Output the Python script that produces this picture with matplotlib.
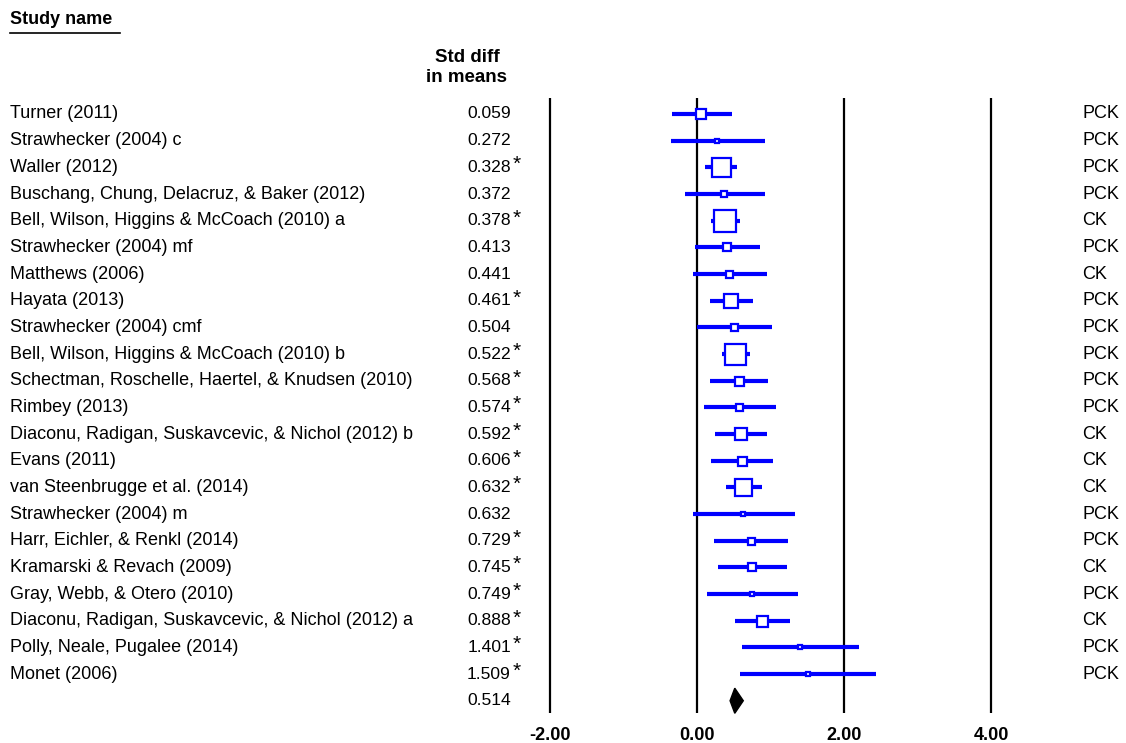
import matplotlib
matplotlib.use("Agg")
import matplotlib.pyplot as plt
from matplotlib.transforms import blended_transform_factory

plt.rcParams['font.family'] = ['Liberation Sans', 'DejaVu Sans']

# Studies, top to bottom
studies = [
    "Turner (2011)",
    "Strawhecker (2004) c",
    "Waller (2012)",
    "Buschang, Chung, Delacruz, & Baker (2012)",
    "Bell, Wilson, Higgins & McCoach (2010) a",
    "Strawhecker (2004) mf",
    "Matthews (2006)",
    "Hayata (2013)",
    "Strawhecker (2004) cmf",
    "Bell, Wilson, Higgins & McCoach (2010) b",
    "Schectman, Roschelle, Haertel, & Knudsen (2010)",
    "Rimbey (2013)",
    "Diaconu, Radigan, Suskavcevic, & Nichol (2012) b",
    "Evans (2011)",
    "van Steenbrugge et al. (2014)",
    "Strawhecker (2004) m",
    "Harr, Eichler, & Renkl (2014)",
    "Kramarski & Revach (2009)",
    "Gray, Webb, & Otero (2010)",
    "Diaconu, Radigan, Suskavcevic, & Nichol (2012) a",
    "Polly, Neale, Pugalee (2014)",
    "Monet (2006)",
]
smd = [0.059, 0.272, 0.328, 0.372, 0.378, 0.413, 0.441, 0.461, 0.504, 0.522,
       0.568, 0.574, 0.592, 0.606, 0.632, 0.632, 0.729, 0.745, 0.749, 0.888,
       1.401, 1.509]
lower = [-0.34, -0.36, 0.11, -0.16, 0.19, -0.03, -0.05, 0.18, 0.00, 0.34,
         0.18, 0.09, 0.25, 0.19, 0.40, -0.05, 0.23, 0.28, 0.14, 0.52,
         0.61, 0.59]
upper = [0.47, 0.92, 0.55, 0.92, 0.59, 0.86, 0.95, 0.76, 1.02, 0.72,
         0.97, 1.07, 0.95, 1.04, 0.88, 1.33, 1.24, 1.22, 1.38, 1.26,
         2.21, 2.44]
signif = [False, False, True, False, True, False, False, True, False, True,
          True, True, True, True, True, False, True, True, True, True,
          True, True]
knowledge = ["PCK", "PCK", "PCK", "PCK", "CK", "PCK", "CK", "PCK", "PCK", "PCK",
             "PCK", "PCK", "CK", "CK", "CK", "PCK", "PCK", "CK", "PCK", "CK",
             "PCK", "PCK"]
# relative weight (box size)
weight = [10, 4, 19, 6, 22, 8, 7, 14, 7, 21,
          9, 7, 12, 9, 17, 5, 7, 8, 5, 11,
          5, 4]

summary_est = 0.514
summary_lo = 0.45
summary_hi = 0.63

ticks = [-2, 0, 2, 4]
tick_labels = ["-2.00", "0.00", "2.00", "4.00"]

W, H = 1126, 743
fig = plt.figure(figsize=(W / 100, H / 100), dpi=100)
ax = fig.add_axes([0, 0, 1, 1])
ax.axis("off")

# scale: x=-2 at 550px, x=0 at 697px ; row 0 at 114px, 26.67px per row
px_unit = 73.5
x0 = -2 - 550 / px_unit
ax.set_xlim(x0, x0 + W / px_unit)
row_h = 26.67
r0 = -114 / row_h
ax.set_ylim(r0 + H / row_h, r0)

n = len(studies)
rows = list(range(n))
sum_row = n

# vertical reference lines
ax.vlines(ticks, -0.6, sum_row + 0.45, colors="black", lw=1.6, zorder=1)

# confidence intervals and boxes
blue = "#0000ff"
ax.hlines(rows, lower, upper, colors=blue, lw=3.0, zorder=2)
for r, m, w in zip(rows, smd, weight):
    ax.plot(m, r, marker="s", ms=w * 0.72, mfc="white", mec=blue, mew=1.6,
            zorder=3, linestyle="none")

# summary diamond
dh = 0.47
ax.fill([summary_lo, summary_est, summary_hi, summary_est],
        [sum_row, sum_row - dh, sum_row, sum_row + dh],
        color="black", zorder=3)

# tick labels
for t, lab in zip(ticks, tick_labels):
    ax.text(t, sum_row + 1.3, lab, ha="center", va="center", fontsize=13,
            fontweight="bold")

tr = blended_transform_factory(ax.transAxes, ax.transData)
fs = 13
for r, name, m, s, k in zip(rows, studies, smd, signif, knowledge):
    ax.text(10 / W, r, name, transform=tr, ha="left", va="center", fontsize=fs)
    ax.text(511 / W, r, f"{m:.3f}", transform=tr, ha="right", va="center",
            fontsize=12.6)
    if s:
        ax.text(513 / W, r - 0.1, "*", transform=tr, ha="left", va="center",
                fontsize=15)
    ax.text(1082 / W, r, k, transform=tr, ha="left", va="center", fontsize=fs)
ax.text(511 / W, sum_row, f"{summary_est:.3f}", transform=tr, ha="right",
        va="center", fontsize=12.6)

# headers
ft = fig.transFigure
fig.text(10 / W, 1 - 20 / H, "Study name", ha="left", va="center",
         fontsize=13, fontweight="bold")
fig.add_artist(plt.Line2D([10 / W, 120 / W], [1 - 33 / H, 1 - 33 / H],
                          color="black", lw=1.2, transform=ft))
fig.text(467 / W, 1 - 57 / H, "Std diff", ha="center", va="center",
         fontsize=13.5, fontweight="bold")
fig.text(467 / W, 1 - 77 / H, "in means", ha="center", va="center",
         fontsize=13.5, fontweight="bold")

fig.savefig("out.png", dpi=100, facecolor="white")
